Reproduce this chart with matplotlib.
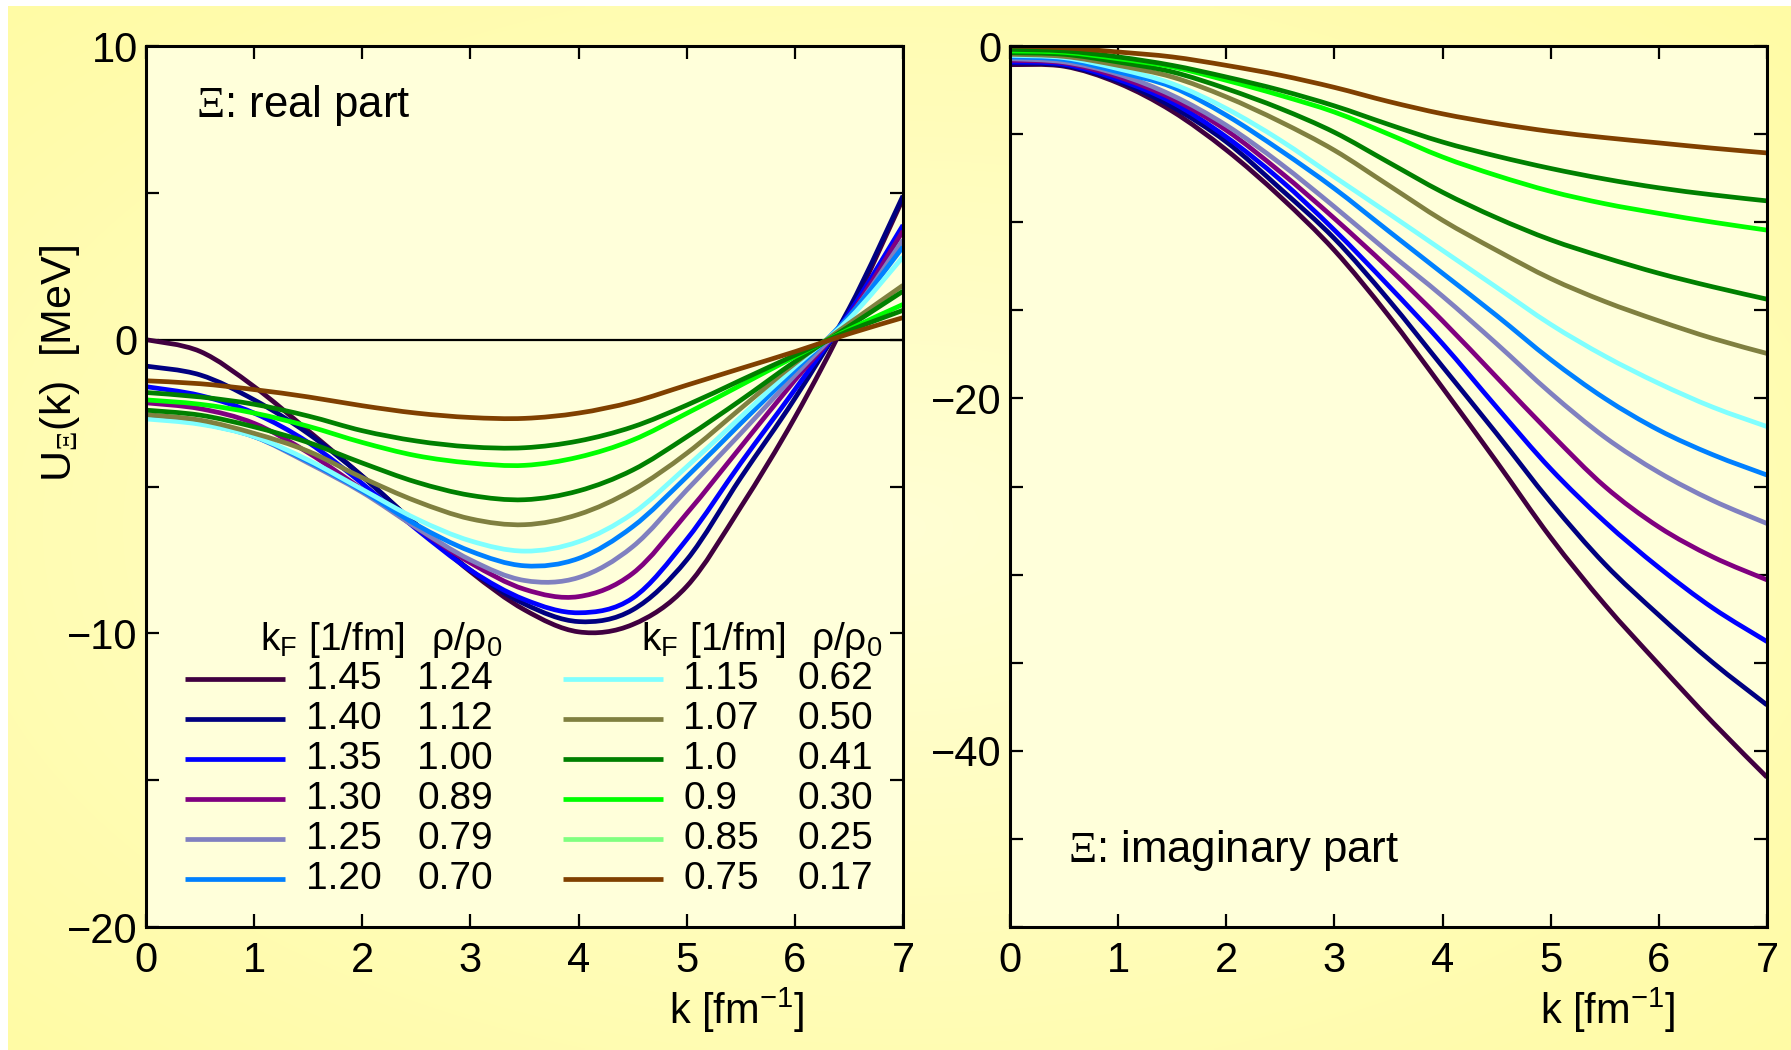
import numpy as np
import matplotlib.pyplot as plt
from matplotlib.ticker import MultipleLocator
from matplotlib.path import Path
from matplotlib.patches import PathPatch

plt.rcParams['font.family'] = ['Liberation Sans', 'DejaVu Sans']
plt.rcParams['mathtext.fontset'] = 'custom'
plt.rcParams['mathtext.rm'] = 'Liberation Serif'
plt.rcParams['mathtext.sf'] = 'Liberation Sans'
plt.rcParams['mathtext.default'] = 'regular'

# momentum grid [1/fm]
k = [0.0, 0.5, 1.0, 1.5, 2.0, 2.5, 3.0, 3.5, 4.0, 4.5, 5.0, 5.5, 6.0, 6.5, 7.0]

kf_labels = ['1.45', '1.40', '1.35', '1.30', '1.25', '1.20',
             '1.15', '1.07', '1.0', '0.9', '0.85', '0.75']
rho_labels = ['1.24', '1.12', '1.00', '0.89', '0.79', '0.70',
              '0.62', '0.50', '0.41', '0.30', '0.25', '0.17']
line_colors = ['#400040', '#000080', '#0000FF', '#800080', '#8080C0', '#0080FF',
               '#80FFFF', '#808040', '#008000', '#00FF00', '#008000', '#804000']
key_colors = ['#400040', '#000080', '#0000FF', '#800080', '#8080C0', '#0080FF',
              '#80FFFF', '#808040', '#008000', '#00FF00', '#80FF80', '#804000']

# real part U(k) [MeV]
re_145 = [0.0, -0.4, -1.6, -3.1, -4.65, -6.3, -7.9, -9.2, -9.95, -9.7, -8.4, -5.7, -2.65, 0.85, 4.8]
re_140 = [-0.9, -1.2, -2.05, -3.2, -4.65, -6.3, -7.85, -9.0, -9.6, -9.2, -7.5, -4.7, -2.0, 1.05, 4.9]
re_135 = [-1.6, -1.9, -2.5, -3.5, -4.9, -6.45, -7.85, -8.85, -9.3, -8.8, -6.8, -4.2, -1.7, 0.9, 3.9]
re_130 = [-2.15, -2.35, -2.85, -3.85, -5.1, -6.4, -7.6, -8.5, -8.75, -7.96, -5.92, -3.65, -1.38, 0.8, 3.7]
re_125 = [-2.6, -2.8, -3.3, -4.2, -5.2, -6.4, -7.5, -8.2, -8.1, -7.05, -5.12, -3.19, -1.21, 0.75, 3.4]
re_120 = [-2.6, -2.85, -3.3, -4.15, -5.15, -6.3, -7.2, -7.7, -7.45, -6.37, -4.67, -2.85, -1.04, 0.8, 3.16]
re_115 = [-2.7, -2.88, -3.3, -4.1, -5.1, -6.1, -6.85, -7.2, -6.88, -5.92, -4.33, -2.63, -0.92, 0.7, 2.82]
re_107 = [-2.55, -2.74, -3.19, -3.8, -4.7, -5.5, -6.1, -6.3, -5.95, -5.12, -3.87, -2.34, -0.81, 0.55, 1.85]
re_100 = [-2.4, -2.57, -2.97, -3.5, -4.2, -4.85, -5.3, -5.45, -5.15, -4.44, -3.31, -2.06, -0.75, 0.45, 1.65]
re_090 = [-2.05, -2.2, -2.5, -2.95, -3.5, -3.95, -4.2, -4.28, -4.0, -3.42, -2.51, -1.55, -0.58, 0.35, 1.2]
re_085 = [-1.8, -1.95, -2.2, -2.6, -3.1, -3.45, -3.65, -3.68, -3.45, -2.97, -2.23, -1.38, -0.53, 0.3, 1.0]
re_075 = [-1.4, -1.5, -1.7, -1.95, -2.25, -2.5, -2.65, -2.68, -2.5, -2.12, -1.55, -0.98, -0.41, 0.2, 0.75]

# imaginary part W(k) [MeV]
im_145 = [-1.06, -1.15, -2.1, -3.7, -5.9, -8.56, -11.6, -15.3, -19.4, -23.6, -27.9, -31.7, -35.1, -38.4, -41.5]
im_140 = [-0.96, -1.1, -2.0, -3.45, -5.44, -8.1, -10.93, -14.4, -18.2, -22.0, -25.9, -29.4, -32.3, -35.0, -37.4]
im_135 = [-0.91, -1.04, -1.9, -3.2, -5.16, -7.6, -10.45, -13.6, -16.9, -20.5, -24.0, -27.0, -29.6, -31.9, -33.8]
im_130 = [-0.81, -0.96, -1.75, -2.99, -4.78, -7.15, -9.79, -12.6, -15.6, -18.8, -22.0, -25.0, -27.3, -29.0, -30.3]
im_125 = [-0.72, -0.9, -1.6, -2.8, -4.5, -6.67, -9.13, -11.7, -14.2, -16.9, -19.7, -22.2, -24.2, -25.8, -27.1]
im_120 = [-0.62, -0.77, -1.47, -2.33, -3.93, -5.92, -8.09, -10.5, -12.9, -15.3, -17.8, -20.0, -21.8, -23.2, -24.35]
im_115 = [-0.53, -0.66, -1.29, -2.14, -3.55, -5.35, -7.43, -9.5, -11.6, -13.7, -15.8, -17.6, -19.15, -20.5, -21.6]
im_107 = [-0.47, -0.59, -1.1, -1.76, -2.89, -4.3, -5.92, -7.9, -9.89, -11.6, -13.2, -14.5, -15.6, -16.6, -17.45]
im_100 = [-0.38, -0.47, -0.91, -1.47, -2.42, -3.55, -4.9, -6.6, -8.3, -9.75, -11.0, -12.0, -12.9, -13.67, -14.37]
im_090 = [-0.28, -0.36, -0.72, -1.19, -1.95, -2.8, -3.75, -5.0, -6.3, -7.35, -8.25, -8.95, -9.5, -10.0, -10.45]
im_085 = [-0.19, -0.28, -0.62, -1.1, -1.76, -2.51, -3.4, -4.45, -5.45, -6.25, -6.95, -7.55, -8.05, -8.45, -8.79]
im_075 = [0.0, -0.1, -0.34, -0.62, -1.1, -1.66, -2.35, -3.15, -3.85, -4.4, -4.85, -5.2, -5.5, -5.8, -6.07]

real_curves = [re_145, re_140, re_135, re_130, re_125, re_120,
               re_115, re_107, re_100, re_090, re_085, re_075]
imag_curves = [im_145, im_140, im_135, im_130, im_125, im_120,
               im_115, im_107, im_100, im_090, im_085, im_075]


def smooth_line(ax, x, y, color, lw=3.4):
    # draw the data as a smooth (Catmull-Rom style) bezier path in data coords
    p = np.column_stack([x, y]).astype(float)
    n = len(p)
    verts = [p[0]]
    codes = [Path.MOVETO]
    for i in range(n - 1):
        p0, p1, p2, p3 = p[max(i - 1, 0)], p[i], p[i + 1], p[min(i + 2, n - 1)]
        verts += [p1 + (p2 - p0) / 6, p2 - (p3 - p1) / 6, p2]
        codes += [Path.CURVE4] * 3
    ax.add_patch(PathPatch(Path(verts, codes), fill=False, edgecolor=color,
                           lw=lw, capstyle='butt', joinstyle='round', zorder=2))


W, H = 1791, 1050
fig = plt.figure(figsize=(W / 100, H / 100), dpi=100, facecolor='white')

# yellow backdrop with lighter centre
bg = fig.add_axes([8 / W, 0, 1 - 8 / W, 1 - 6 / H], zorder=-10)
yy, xx = np.mgrid[-1:1:300j, -1:1:500j]
r = np.clip(np.sqrt(xx ** 2 + yy ** 2) / np.sqrt(2), 0, 1)[..., None]
c_in = np.array([255, 255, 212]) / 255
c_out = np.array([255, 251, 165]) / 255
bg.imshow(c_in * (1 - r) + c_out * r, aspect='auto', interpolation='bilinear')
bg.axis('off')

ax1 = fig.add_axes([146 / W, 123 / H, 757 / W, 881 / H])
ax2 = fig.add_axes([1010 / W, 123 / H, 757 / W, 881 / H])

for ax in (ax1, ax2):
    ax.set_facecolor('#FFFFDA')
    ax.set_xlim(0, 7)
    ax.xaxis.set_major_locator(MultipleLocator(1))
    ax.tick_params(which='both', direction='in', top=True, right=True,
                   length=9.5, width=1.6, labelsize=30)
    ax.tick_params(axis='x', pad=10)
    ax.tick_params(axis='y', pad=6)
    for s in ax.spines.values():
        s.set_linewidth(2.2)
    ax.set_xlabel('k [fm$^{\\mathsf{-1}}$]', fontsize=30)

ax1.set_ylim(-20, 10)
ax1.yaxis.set_major_locator(MultipleLocator(10))
ax1.yaxis.set_minor_locator(MultipleLocator(5))
ax1.axhline(0, color='black', lw=1.6, zorder=1)
for y, c in zip(real_curves, line_colors):
    smooth_line(ax1, k, y, c)
ax1.set_ylabel('U$_{\\mathrm{\\Xi}}$(k)  [MeV]', fontsize=31)
ax1.yaxis.set_label_coords(-0.085, 0.64)
ax1.xaxis.set_label_coords(0.78, -0.066)
ax1.text(0.066, 0.933, '$\\mathrm{\\Xi}$: real part', transform=ax1.transAxes,
         fontsize=31.5, va='center', ha='left')

ax2.set_ylim(-50, 0)
ax2.yaxis.set_major_locator(MultipleLocator(20))
ax2.yaxis.set_minor_locator(MultipleLocator(5))
for y, c in zip(imag_curves, line_colors):
    smooth_line(ax2, k, y, c)
ax2.xaxis.set_label_coords(0.79, -0.066)
ax2.text(0.077, 0.087, '$\\mathrm{\\Xi}$: imaginary part', transform=ax2.transAxes,
         fontsize=31.5, va='center', ha='left')

# hand-made two-column key
key_cols = [
    dict(line=(0.051, 0.184), kf=0.211, rho=0.358, head_kf=0.151, head_rho=0.376),
    dict(line=(0.551, 0.683), kf=0.710, rho=0.860, head_kf=0.654, head_rho=0.878),
]
row_top, row_step = 0.281, 0.0453
for ci, col in enumerate(key_cols):
    ax1.text(col['head_kf'], 0.326, 'k$_F$ [1/fm]', transform=ax1.transAxes,
             fontsize=28, va='center')
    ax1.text(col['head_rho'], 0.326, 'ρ/ρ$_0$', transform=ax1.transAxes,
             fontsize=28, va='center')
    for ri in range(6):
        i = ci * 6 + ri
        yr = row_top - ri * row_step
        ax1.plot(col['line'], [yr, yr], transform=ax1.transAxes,
                 color=key_colors[i], lw=3.4, solid_capstyle='butt')
        ax1.text(col['kf'], yr, kf_labels[i], transform=ax1.transAxes,
                 fontsize=28, va='center')
        ax1.text(col['rho'], yr, rho_labels[i], transform=ax1.transAxes,
                 fontsize=28, va='center')

fig.savefig('out.png', dpi=100)
